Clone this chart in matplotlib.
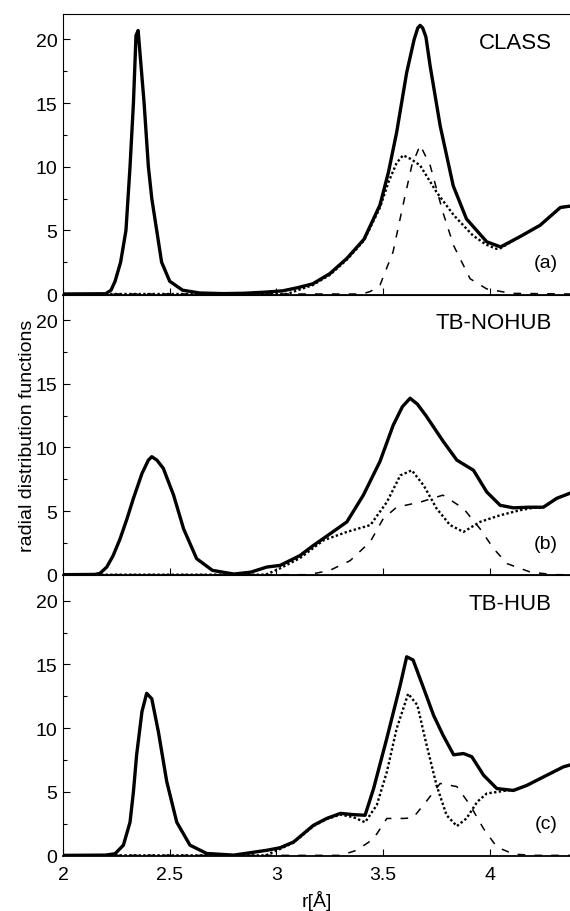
import matplotlib
matplotlib.use("Agg")
import matplotlib.pyplot as plt

plt.rcParams['font.family'] = ['Liberation Sans', 'DejaVu Sans']

# panel (a) CLASS
a_tot_x = [2.00, 2.20, 2.225, 2.244, 2.27, 2.295, 2.314, 2.33, 2.342, 2.352, 2.38, 2.40, 2.416, 2.439, 2.462, 2.50, 2.56, 2.64, 2.75, 2.85, 2.95, 3.03, 3.10, 3.17, 3.25, 3.33, 3.41, 3.485, 3.525, 3.563, 3.61, 3.645, 3.662, 3.673, 3.685, 3.70, 3.72, 3.767, 3.828, 3.89, 3.985, 4.05, 4.14, 4.235, 4.33, 4.375]
a_tot_y = [0, 0.02, 0.3, 1.0, 2.5, 5.0, 10.0, 15.0, 20.3, 20.7, 15.0, 10.0, 7.5, 5.0, 2.5, 1.0, 0.3, 0.08, 0.03, 0.06, 0.15, 0.25, 0.5, 0.8, 1.6, 2.8, 4.3, 7.0, 9.6, 12.7, 17.4, 20.0, 20.9, 21.1, 20.9, 20.2, 17.9, 13.2, 8.5, 5.9, 4.1, 3.7, 4.5, 5.4, 6.8, 6.9]
a_dot_x = [2.00, 3.05, 3.10, 3.17, 3.25, 3.33, 3.41, 3.485, 3.525, 3.563, 3.593, 3.63, 3.673, 3.75, 3.83, 3.92, 3.98, 4.03, 4.05, 4.14, 4.235, 4.33, 4.375]
a_dot_y = [0, 0, 0.3, 0.7, 1.5, 2.7, 4.2, 6.8, 8.8, 10.3, 10.9, 10.6, 10.1, 8.0, 6.2, 4.6, 3.9, 3.55, 3.6, 4.5, 5.4, 6.8, 6.9]
a_dash_x = [2.00, 3.40, 3.44, 3.485, 3.546, 3.593, 3.634, 3.673, 3.72, 3.78, 3.83, 3.907, 3.985, 4.10, 4.375]
a_dash_y = [0, 0, 0.2, 0.7, 3.3, 7.0, 10.1, 11.7, 10.1, 6.4, 3.8, 1.2, 0.4, 0.05, 0]

# panel (b) TB-NOHUB
b_tot_x = [2.00, 2.15, 2.173, 2.205, 2.235, 2.267, 2.30, 2.33, 2.37, 2.40, 2.416, 2.44, 2.47, 2.518, 2.565, 2.626, 2.70, 2.80, 2.88, 2.955, 3.017, 3.11, 3.173, 3.25, 3.33, 3.407, 3.485, 3.547, 3.59, 3.626, 3.66, 3.70, 3.782, 3.845, 3.923, 3.985, 4.048, 4.11, 4.18, 4.25, 4.313, 4.375]
b_tot_y = [0, 0.02, 0.1, 0.6, 1.5, 2.8, 4.4, 6.0, 7.95, 9.0, 9.27, 9.0, 8.35, 6.25, 3.6, 1.26, 0.34, 0.05, 0.2, 0.6, 0.73, 1.5, 2.3, 3.2, 4.15, 6.25, 8.9, 11.75, 13.2, 13.86, 13.4, 12.5, 10.45, 9.0, 8.2, 6.5, 5.45, 5.25, 5.3, 5.3, 6.0, 6.4]
b_dot_x = [2.00, 2.95, 3.017, 3.11, 3.173, 3.22, 3.33, 3.44, 3.517, 3.58, 3.634, 3.69, 3.75, 3.813, 3.876, 3.954, 4.048, 4.14, 4.20, 4.25, 4.313, 4.375]
b_dot_y = [0, 0, 0.5, 1.3, 2.1, 2.7, 3.36, 3.9, 5.7, 7.8, 8.2, 7.0, 5.2, 3.9, 3.36, 4.15, 4.67, 5.06, 5.25, 5.3, 6.0, 6.4]
b_dash_x = [2.00, 3.15, 3.25, 3.345, 3.44, 3.50, 3.563, 3.673, 3.78, 3.876, 3.954, 4.017, 4.08, 4.19, 4.30, 4.375]
b_dash_y = [0, 0, 0.34, 1.1, 2.6, 4.4, 5.3, 5.7, 6.25, 5.2, 3.6, 2.05, 0.87, 0.2, 0, 0]

# panel (c) TB-HUB
c_tot_x = [2.00, 2.20, 2.244, 2.283, 2.314, 2.33, 2.345, 2.37, 2.392, 2.416, 2.447, 2.486, 2.533, 2.595, 2.673, 2.80, 2.955, 3.017, 3.08, 3.173, 3.235, 3.30, 3.36, 3.415, 3.455, 3.517, 3.58, 3.61, 3.64, 3.69, 3.736, 3.78, 3.83, 3.876, 3.915, 3.97, 4.032, 4.11, 4.173, 4.267, 4.345, 4.375]
c_tot_y = [0, 0.02, 0.13, 0.8, 2.6, 5.0, 7.9, 11.3, 12.73, 12.3, 9.7, 5.8, 2.6, 0.8, 0.15, 0.02, 0.4, 0.6, 1.05, 2.36, 2.9, 3.3, 3.2, 3.15, 5.25, 9.2, 13.4, 15.6, 15.35, 13.1, 11.0, 9.45, 7.9, 8.0, 7.75, 6.3, 5.25, 5.1, 5.5, 6.3, 6.96, 7.1]
c_dot_x = [2.00, 2.95, 3.017, 3.08, 3.173, 3.235, 3.30, 3.36, 3.415, 3.47, 3.517, 3.563, 3.617, 3.66, 3.70, 3.75, 3.797, 3.845, 3.89, 3.94, 3.985, 4.08, 4.12, 4.173, 4.267, 4.345, 4.375]
c_dot_y = [0, 0, 0.5, 1.0, 2.3, 2.85, 3.2, 3.0, 2.6, 3.95, 6.55, 9.96, 12.7, 11.8, 8.9, 5.5, 3.15, 2.3, 2.9, 4.2, 4.86, 5.1, 5.15, 5.5, 6.3, 6.96, 7.1]
c_dash_x = [2.00, 3.30, 3.376, 3.455, 3.517, 3.595, 3.64, 3.70, 3.767, 3.845, 3.907, 3.97, 4.032, 4.11, 4.20, 4.375]
c_dash_y = [0, 0, 0.4, 1.3, 2.9, 2.9, 2.95, 4.2, 5.65, 5.4, 3.95, 2.1, 0.66, 0.1, 0, 0]

names = ["CLASS", "TB-NOHUB", "TB-HUB"]
tags = ["(a)", "(b)", "(c)"]
panels = [
    (a_tot_x, a_tot_y, a_dot_x, a_dot_y, a_dash_x, a_dash_y),
    (b_tot_x, b_tot_y, b_dot_x, b_dot_y, b_dash_x, b_dash_y),
    (c_tot_x, c_tot_y, c_dot_x, c_dot_y, c_dash_x, c_dash_y),
]

fig, axes = plt.subplots(3, 1, sharex=True, figsize=(5.7, 9.12), dpi=100)
fig.subplots_adjust(left=0.1105, right=1.0, bottom=0.0603, top=0.9836, hspace=0)

for ax, (tx, ty, dx, dy, sx, sy), name, tag in zip(axes, panels, names, tags):
    ax.plot(sx, sy, color="black", lw=1.1, dashes=(5, 6))
    ax.plot(dx, dy, color="black", lw=1.7, linestyle=(0, (1, 1)))
    ax.plot(tx, ty, color="black", lw=2.4, solid_joinstyle="round")
    ax.set_xlim(2, 4.375)
    ax.set_ylim(-0.05, 22)
    ax.set_yticks([0, 5, 10, 15, 20])
    ax.set_yticks([2.5, 7.5, 12.5, 17.5], minor=True)
    ax.set_xticks([2, 2.5, 3, 3.5, 4])
    ax.set_xticklabels(["2", "2.5", "3", "3.5", "4"])
    ax.tick_params(direction="in", length=5, width=0.8, labelsize=14, pad=4)
    ax.tick_params(axis="x", pad=7)
    ax.tick_params(which="minor", direction="in", length=3, width=0.8)
    ax.spines["right"].set_visible(False)
    ax.spines["bottom"].set_linewidth(1.3)
    ax.text(0.964, 0.90, name, transform=ax.transAxes, ha="right", va="center", fontsize=16)
    ax.text(0.976, 0.115, tag, transform=ax.transAxes, ha="right", va="center", fontsize=14)

axes[1].set_ylabel("radial distribution functions", fontsize=14)
axes[1].yaxis.set_label_coords(-0.054, 0.5)
axes[2].set_xlabel("r[Å]", fontsize=14, labelpad=5)

fig.savefig("out.png", dpi=100)
